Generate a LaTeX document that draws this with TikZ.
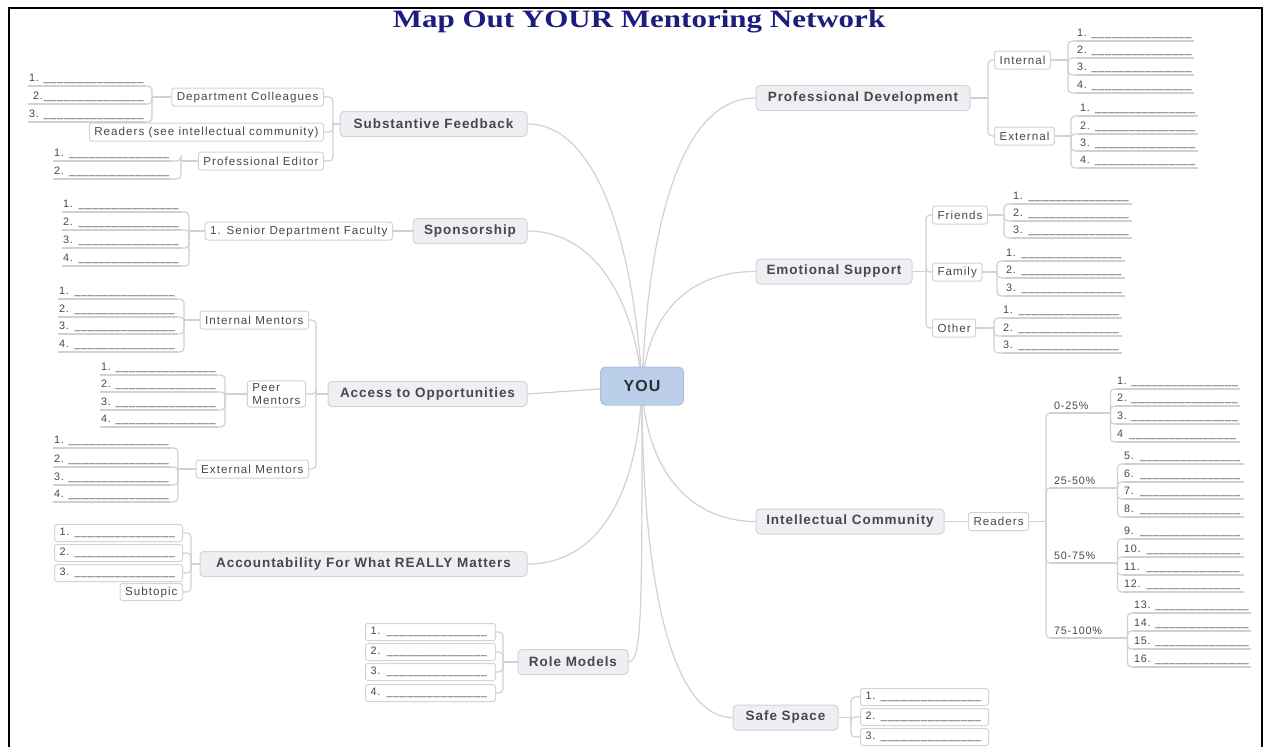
\documentclass[tikz,border=0pt]{standalone}
\usepackage{fontspec}
\setmainfont{Liberation Sans}
\newfontfamily\mmf[LetterSpace=7]{Liberation Sans}
\newfontfamily\mmg[LetterSpace=9]{Liberation Sans}
\newfontfamily\ttlf{Liberation Serif}
\usetikzlibrary{backgrounds}
\definecolor{lineC}{HTML}{D0D0D5}
\definecolor{boxB}{HTML}{D3D3D9}
\definecolor{boxF}{HTML}{EEEEF3}
\definecolor{youF}{HTML}{BCCFE9}
\definecolor{youB}{HTML}{ABC0DE}
\definecolor{txtC}{HTML}{484848}
\definecolor{ttlC}{HTML}{1D1D7E}
\newcommand\bln[2]{\hbox to #1{#2\cleaders\hbox{\_\kern0.7pt}\hfill}}
\begin{document}
\begin{tikzpicture}[x=1pt,y=-1pt,
 conn/.style={draw=lineC, line width=1.2pt},
 elb/.style={conn, rounded corners=4pt},
 main/.style={draw=boxB, fill=boxF, line width=1pt, rounded corners=4pt, text=txtC,
   font=\mmf\bfseries\fontsize{13.5}{15}\selectfont, minimum height=25pt, inner xsep=3pt, inner ysep=2pt},
 sub/.style={draw=boxB, fill=white, line width=1pt, rounded corners=2.5pt, text=txtC,
   font=\mmg\fontsize{11.6}{13}\selectfont, minimum height=18pt, inner xsep=5pt, inner ysep=1.5pt},
 bl/.style={text=txtC, font=\mmf\fontsize{10.8}{12}\selectfont, inner xsep=1pt, inner ysep=2pt, anchor=south west,
   append after command={(\tikzlastnode.south west) edge[conn] (\tikzlastnode.south east)}},
 bxi/.style={sub, font=\mmf\fontsize{10.8}{12}\selectfont, minimum height=17pt, inner xsep=5pt},
]
\useasboundingbox (0,0) rectangle (1267,747);
\draw[line width=2pt] (9,747) -- (9,8) -- (1262,8) -- (1262,747);
\node[text=ttlC, font=\ttlf\bfseries\fontsize{25}{27}\selectfont] (title) at (639,22) {\scalebox{1.24}[1]{Map Out YOUR Mentoring Network}};

% centre
\node[draw=youB, fill=youF, line width=1pt, rounded corners=5pt, minimum width=83pt, minimum height=38pt,
  text=black!75!youB, font=\mmf\bfseries\fontsize{16}{18}\selectfont] (you) at (642,386) {YOU};

% ---------- Substantive Feedback
\node[main, minimum width=187pt] (sf) at (433.5,124) {Substantive Feedback};
\node[sub, anchor=east] (dc) at (324,97) {Department Colleagues};
\node[sub, anchor=east] (rd) at (324,132) {Readers (see intellectual community)};
\node[sub, anchor=east] (pe) at (324,161) {Professional Editor};
\coordinate (sfS) at (333,124);
\node[bl] (dc1) at (28,86) {\bln{116pt}{1.\ }};
\node[bl] (dc2) at (28,104) {\bln{116pt}{\hspace{4pt}2.}};
\node[bl] (dc3) at (28,122) {\bln{116pt}{3.\ }};
\coordinate (dcS) at (152,97);
\node[bl] (pe1) at (53,161) {\bln{117pt}{1.\ }};
\node[bl] (pe2) at (53,179) {\bln{117pt}{2.\ }};
\coordinate (peS) at (181,161);

% ---------- Sponsorship
\node[main, minimum width=114pt] (sp) at (470,231) {Sponsorship};
\node[sub, anchor=east] (sdf) at (393,231) {1. Senior Department Faculty};
\foreach \t/\y [count=\i] in {1./212,2./230,3./248,4./266}
  \node[bl] (sd\i) at (62,\y) {\bln{118pt}{\t\ }};
\coordinate (sdS) at (189,231);

% ---------- Access to Opportunities
\node[main, minimum width=199pt] (acc) at (427.5,394) {Access to Opportunities};
\coordinate (accS) at (316,394);
\node[sub, anchor=east] (im) at (309,320) {Internal Mentors};
\node[sub, anchor=east, align=left, inner ysep=2.5pt] (pm) at (306,394) {Peer\\Mentors};
\node[sub, anchor=east] (em) at (309,469) {External Mentors};
\foreach \t/\y [count=\i] in {1./299,2./317,3./334,4./352}
  \node[bl] (im\i) at (58,\y) {\bln{118pt}{\t\ }};
\coordinate (imS) at (184,320);
\foreach \t/\y [count=\i] in {1./375,2./392,3./410,4./427}
  \node[bl] (pm\i) at (100,\y) {\bln{116pt}{\t\ }};
\coordinate (pmS) at (225,394);
\foreach \t/\y [count=\i] in {1./448,2./467,3./485,4./502}
  \node[bl] (em\i) at (53,\y) {\bln{116pt}{\t\ }};
\coordinate (emS) at (178,469);

% ---------- Accountability
\node[main, minimum width=327pt] (acct) at (363.5,564) {Accountability For What REALLY Matters};
\coordinate (acctS) at (191,564);
\foreach \t/\y [count=\i] in {1./533,2./553,3./573}
  \node[bxi, anchor=east] (ac\i) at (183,\y) {\bln{118pt}{\t\ }};
\node[sub, anchor=east, minimum height=17pt] (subt) at (183,592) {Subtopic};

% ---------- Role Models
\node[main, minimum width=110pt] (rm) at (573,662) {Role Models};
\coordinate (rmS) at (503,662);
\foreach \t/\y [count=\i] in {1./632,2./652,3./672,4./693}
  \node[bxi, anchor=east] (rm\i) at (496,\y) {\bln{120pt}{\t\ }};

% ---------- Professional Development
\node[main, minimum width=214pt] (pd) at (863,98) {Professional Development};
\coordinate (pdS) at (988,98);
\node[sub, anchor=west] (int) at (994,60) {Internal};
\node[sub, anchor=west] (ext) at (994,136) {External};
\foreach \t/\y [count=\i] in {1./41,2./58,3./75,4./93}
  \node[bl] (in\i) at (1076,\y) {\bln{116pt}{\t\ }};
\coordinate (intS) at (1068,60);
\foreach \t/\y [count=\i] in {1./116,2./134,3./151,4./168}
  \node[bl] (ex\i) at (1079,\y) {\bln{117pt}{\t\ }};
\coordinate (extS) at (1071,136);

% ---------- Emotional Support
\node[main, minimum width=156pt] (es) at (834,271.5) {Emotional Support};
\coordinate (esS) at (926,271.5);
\node[sub, anchor=west] (fr) at (932,215) {Friends};
\node[sub, anchor=west] (fa) at (932,272) {Family};
\node[sub, anchor=west] (ot) at (932,328) {Other};
\foreach \t/\y [count=\i] in {1./204,2./221,3./238}
  \node[bl] (fr\i) at (1012,\y) {\bln{118pt}{\t\ }};
\coordinate (frS) at (1004,215);
\foreach \t/\y [count=\i] in {1./261,2./278,3./296}
  \node[bl] (fa\i) at (1005,\y) {\bln{118pt}{\t\ }};
\coordinate (faS) at (997,272);
\foreach \t/\y [count=\i] in {1./318,2./336,3./353}
  \node[bl] (ot\i) at (1002,\y) {\bln{118pt}{\t\ }};
\coordinate (otS) at (994,328);

% ---------- Intellectual Community
\node[main, minimum width=188pt] (ic) at (850,521.5) {Intellectual Community};
\node[sub, anchor=west] (rdr) at (968,521.5) {Readers};
\coordinate (icS) at (1046,521.5);
\node[bl, inner ysep=3pt] (ra) at (1050,413) {\hbox to 58pt{\hspace{3pt}0-25\%\hfill}};
\node[bl, inner ysep=3pt] (rb) at (1050,488) {\hbox to 65pt{\hspace{3pt}25-50\%\hfill}};
\node[bl, inner ysep=3pt] (rc) at (1050,563) {\hbox to 65pt{\hspace{3pt}50-75\%\hfill}};
\node[bl, inner ysep=3pt] (rdd) at (1050,638) {\hbox to 75pt{\hspace{3pt}75-100\%\hfill}};
\node[bl] (ra1) at (1116,389) {\bln{122pt}{1.\ }};
\node[bl] (ra2) at (1116,406) {\bln{122pt}{2.\ }};
\node[bl] (ra3) at (1116,424) {\bln{122pt}{3.\ }};
\node[bl] (ra4) at (1116,442) {\bln{122pt}{4\ }};
\foreach \t/\y [count=\i] in {5./464,6./482,7./499,8./517}
  \node[bl] (rb\i) at (1123,\y) {\bln{119pt}{\t\ }};
\foreach \t/\y [count=\i] in {9./539,10./557,11./575,12./592}
  \node[bl] (rc\i) at (1123,\y) {\bln{119pt}{\t\ }};
\foreach \t/\y [count=\i] in {13./613,14./631,15./649,16./667}
  \node[bl] (rd\i) at (1133,\y) {\bln{116pt}{\t\ }};

% ---------- Safe Space
\node[main, minimum width=105pt] (ss) at (785.5,717.5) {Safe Space};
\coordinate (ssS) at (851,717.5);
\foreach \t/\y [count=\i] in {1./697,2./717,3./737}
  \node[bxi, anchor=west] (ss\i) at (860,\y) {\bln{118pt}{\t\ }};

% ---------- connectors
\begin{scope}[on background layer]
\draw[conn] (you.center) .. controls +(-8,-140) and +(70,0) .. (sf.east);
\draw[conn] (you.center) .. controls +(-8,-90) and +(65,0) .. (sp.east);
\draw[conn] (you.center) -- (acc.east);
\draw[conn] (you.center) .. controls +(-4,110) and +(70,0) .. (acct.east);
\draw[conn] (you.center) .. controls +(0,220) and +(14,0) .. (rm.east);
\draw[conn] (you.center) .. controls +(6,-160) and +(-75,0) .. (pd.west);
\draw[conn] (you.center) .. controls +(6,-75) and +(-65,0) .. (es.west);
\draw[conn] (you.center) .. controls +(4,85) and +(-65,0) .. (ic.west);
\draw[conn] (you.center) .. controls +(0,220) and +(-55,0) .. (ss.west);

\draw[conn] (sf.west) -- (sfS);
\foreach \n in {dc,rd,pe} \draw[elb] (sfS) |- (\n.east);
\draw[conn] (dc.west) -- (dcS);
\foreach \n in {dc1,dc2,dc3} \draw[elb] (dcS) |- (\n.south east);
\draw[conn] (pe.west) -- (peS);
\foreach \n in {pe1,pe2} \draw[elb] (peS) |- (\n.south east);

\draw[conn] (sp.west) -- (sdf.east);
\draw[conn] (sdf.west) -- (sdS);
\foreach \i in {1,...,4} \draw[elb] (sdS) |- (sd\i.south east);

\draw[conn] (acc.west) -- (accS);
\foreach \n in {im,pm,em} \draw[elb] (accS) |- (\n.east);
\draw[conn] (im.west) -- (imS);
\draw[conn] (pm.west) -- (pmS);
\draw[conn] (em.west) -- (emS);
\foreach \i in {1,...,4} {
  \draw[elb] (imS) |- (im\i.south east);
  \draw[elb] (pmS) |- (pm\i.south east);
  \draw[elb] (emS) |- (em\i.south east);
}

\draw[conn] (acct.west) -- (acctS);
\foreach \n in {ac1,ac2,ac3,subt} \draw[elb] (acctS) |- (\n.east);

\draw[conn] (rm.west) -- (rmS);
\foreach \i in {1,...,4} \draw[elb] (rmS) |- (rm\i.east);

\draw[conn] (pd.east) -- (pdS);
\foreach \n in {int,ext} \draw[elb] (pdS) |- (\n.west);
\draw[conn] (int.east) -- (intS);
\draw[conn] (ext.east) -- (extS);
\foreach \i in {1,...,4} {
  \draw[elb] (intS) |- (in\i.south west);
  \draw[elb] (extS) |- (ex\i.south west);
}

\draw[conn] (es.east) -- (esS);
\foreach \n in {fr,fa,ot} \draw[elb] (esS) |- (\n.west);
\draw[conn] (fr.east) -- (frS);
\draw[conn] (fa.east) -- (faS);
\draw[conn] (ot.east) -- (otS);
\foreach \i in {1,2,3} {
  \draw[elb] (frS) |- (fr\i.south west);
  \draw[elb] (faS) |- (fa\i.south west);
  \draw[elb] (otS) |- (ot\i.south west);
}

\draw[conn] (ic.east) -- (rdr.west);
\draw[conn] (rdr.east) -- (icS);
\foreach \n in {ra,rb,rc,rdd} \draw[elb] (icS) |- (\n.south west);
\foreach \i in {1,...,4} {
  \draw[elb] (ra.south east) |- (ra\i.south west);
  \draw[elb] (rb.south east) |- (rb\i.south west);
  \draw[elb] (rc.south east) |- (rc\i.south west);
  \draw[elb] (rdd.south east) |- (rd\i.south west);
}

\draw[conn] (ss.east) -- (ssS);
\foreach \i in {1,2,3} \draw[elb] (ssS) |- (ss\i.west);
\end{scope}
\end{tikzpicture}
\end{document}
